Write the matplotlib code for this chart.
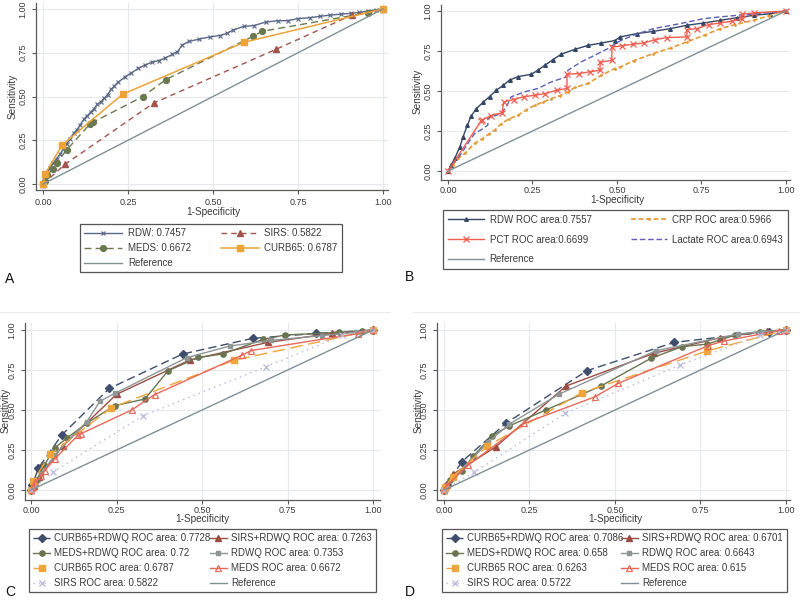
import matplotlib
matplotlib.use('Agg')
import matplotlib.pyplot as plt
from matplotlib import transforms
from matplotlib.lines import Line2D

plt.rcParams['font.family'] = ['Liberation Sans', 'DejaVu Sans']

# ---------------- Panel A data ----------------
a_rdw_x = [0, 0.004, 0.01, 0.02, 0.03, 0.04, 0.05, 0.06, 0.07, 0.08, 0.09, 0.1, 0.11, 0.12, 0.13, 0.14,
           0.15, 0.16, 0.17, 0.18, 0.19, 0.2, 0.21, 0.22, 0.24, 0.26, 0.28, 0.3, 0.32, 0.34, 0.36, 0.38,
           0.395, 0.41, 0.43, 0.46, 0.49, 0.52, 0.54, 0.56, 0.59, 0.62, 0.655, 0.69, 0.72, 0.75, 0.785,
           0.815, 0.845, 0.875, 0.905, 0.93, 0.955, 0.98, 1]
a_rdw_y = [0, 0.03, 0.06, 0.09, 0.12, 0.145, 0.17, 0.2, 0.23, 0.26, 0.29, 0.31, 0.34, 0.37, 0.39, 0.41,
           0.43, 0.455, 0.47, 0.49, 0.51, 0.54, 0.56, 0.58, 0.61, 0.635, 0.66, 0.68, 0.695, 0.705, 0.72, 0.74,
           0.755, 0.795, 0.815, 0.828, 0.84, 0.848, 0.86, 0.88, 0.9, 0.905, 0.925, 0.933, 0.933, 0.945, 0.95,
           0.958, 0.965, 0.97, 0.975, 0.98, 0.988, 0.995, 1]
sirs_x = [0, 0.065, 0.326, 0.686, 0.91, 1]
sirs_y = [0, 0.113, 0.463, 0.77, 0.966, 1]
meds_x = [0, 0.005, 0.012, 0.028, 0.04, 0.07, 0.138, 0.146, 0.294, 0.361, 0.617, 0.644, 0.955, 1]
meds_y = [0, 0.02, 0.05, 0.085, 0.12, 0.196, 0.343, 0.352, 0.5, 0.596, 0.843, 0.872, 0.978, 1]
curb_x = [0, 0.006, 0.056, 0.234, 0.592, 1]
curb_y = [0, 0.057, 0.222, 0.513, 0.81, 1]
a_labels = ['RDW: 0.7457', 'SIRS: 0.5822', 'MEDS: 0.6672', 'CURB65: 0.6787', 'Reference']

# ---------------- Panel B data ----------------
b_rdw_x = [0, 0.01, 0.02, 0.035, 0.044, 0.057, 0.069, 0.084, 0.104, 0.123, 0.143, 0.163, 0.182, 0.207,
           0.247, 0.266, 0.286, 0.31, 0.335, 0.375, 0.414, 0.454, 0.493, 0.51, 0.559, 0.608, 0.658, 0.707,
           0.756, 0.806, 0.855, 0.904, 0.954, 1]
b_rdw_y = [0, 0.04, 0.08, 0.15, 0.21, 0.285, 0.345, 0.39, 0.43, 0.465, 0.505, 0.535, 0.568, 0.59,
           0.605, 0.63, 0.66, 0.695, 0.73, 0.76, 0.785, 0.8, 0.815, 0.838, 0.859, 0.873, 0.89, 0.911,
           0.925, 0.942, 0.958, 0.973, 0.983, 1]
pct_x = [0, 0.097, 0.1, 0.128, 0.16, 0.165, 0.194, 0.224, 0.258, 0.288, 0.322, 0.352, 0.352, 0.387, 0.419,
         0.45, 0.45, 0.485, 0.485, 0.515, 0.546, 0.579, 0.613, 0.648, 0.707, 0.707, 0.738, 0.771, 0.806,
         0.84, 0.87, 0.87, 0.904, 1]
pct_y = [0, 0.31, 0.318, 0.347, 0.364, 0.432, 0.447, 0.464, 0.474, 0.484, 0.505, 0.516, 0.605, 0.609, 0.62,
         0.63, 0.68, 0.692, 0.775, 0.782, 0.792, 0.8, 0.821, 0.834, 0.838, 0.884, 0.89, 0.915, 0.925,
         0.936, 0.952, 0.979, 0.988, 1]
crp_x = [0, 0.015, 0.03, 0.05, 0.079, 0.1, 0.12, 0.138, 0.158, 0.18, 0.207, 0.23, 0.256, 0.28, 0.306, 0.33,
         0.355, 0.375, 0.414, 0.454, 0.493, 0.51, 0.55, 0.608, 0.66, 0.707, 0.76, 0.806, 0.85, 0.904, 0.95,
         0.983, 1]
crp_y = [0, 0.04, 0.079, 0.11, 0.173, 0.2, 0.23, 0.256, 0.297, 0.325, 0.349, 0.38, 0.41, 0.43, 0.453, 0.47,
         0.495, 0.522, 0.547, 0.599, 0.64, 0.65, 0.69, 0.734, 0.77, 0.807, 0.85, 0.89, 0.915, 0.942, 0.97,
         0.994, 1]
lac_x = [0, 0.02, 0.04, 0.059, 0.079, 0.1, 0.118, 0.118, 0.158, 0.175, 0.187, 0.227, 0.266, 0.306, 0.35,
         0.355, 0.394, 0.434, 0.473, 0.503, 0.55, 0.608, 0.66, 0.707, 0.756, 0.8, 0.855, 0.92, 0.983, 1]
lac_y = [0, 0.06, 0.11, 0.173, 0.235, 0.26, 0.287, 0.33, 0.36, 0.41, 0.464, 0.495, 0.516, 0.557, 0.588,
         0.63, 0.682, 0.723, 0.765, 0.807, 0.85, 0.89, 0.91, 0.93, 0.952, 0.962, 0.973, 0.985, 0.994, 1]
b_labels = ['RDW ROC area:0.7557', 'CRP ROC area:0.5966', 'PCT ROC area:0.6699',
            'Lactate ROC area:0.6943', 'Reference']

# ---------------- Panel C data ----------------
c_curbq_x = [0, 0.004, 0.021, 0.09, 0.229, 0.443, 0.648, 0.834, 1]
c_curbq_y = [0, 0.03, 0.135, 0.344, 0.635, 0.85, 0.948, 0.979, 1]
c_sirsq_x = [0, 0.009, 0.024, 0.093, 0.25, 0.464, 0.693, 0.88, 1]
c_sirsq_y = [0, 0.025, 0.083, 0.277, 0.598, 0.813, 0.923, 0.979, 1]
c_medsq_x = [0, 0.017, 0.039, 0.07, 0.104, 0.165, 0.245, 0.333, 0.401, 0.489, 0.56, 0.679, 0.742, 0.9, 0.966, 1]
c_medsq_y = [0, 0.062, 0.156, 0.265, 0.323, 0.421, 0.527, 0.569, 0.746, 0.829, 0.85, 0.942, 0.969, 0.985, 0.996, 1]
c_rdwq_x = [0, 0.01, 0.03, 0.07, 0.163, 0.202, 0.245, 0.455, 0.581, 0.7, 0.85, 0.95, 1]
c_rdwq_y = [0, 0.03, 0.1, 0.22, 0.427, 0.556, 0.604, 0.827, 0.9, 0.935, 0.965, 0.985, 1]
c_labels = ['CURB65+RDWQ ROC area: 0.7728', 'SIRS+RDWQ ROC area: 0.7263', 'MEDS+RDWQ ROC area: 0.72',
            'RDWQ ROC area: 0.7353', 'CURB65 ROC area: 0.6787', 'MEDS ROC area: 0.6672',
            'SIRS ROC area: 0.5822', 'Reference']

# ---------------- Panel D data ----------------
d_curbq_x = [0, 0.005, 0.008, 0.052, 0.181, 0.418, 0.674, 0.952, 1]
d_curbq_y = [0, 0.02, 0.031, 0.177, 0.417, 0.746, 0.923, 0.99, 1]
d_sirsq_x = [0, 0.008, 0.027, 0.152, 0.357, 0.613, 0.808, 0.944, 1]
d_sirsq_y = [0, 0.035, 0.1, 0.271, 0.65, 0.854, 0.952, 0.994, 1]
d_medsq_x = [0, 0.018, 0.052, 0.086, 0.14, 0.19, 0.298, 0.459, 0.605, 0.696, 0.77, 0.852, 0.923, 1]
d_medsq_y = [0, 0.062, 0.119, 0.212, 0.338, 0.4, 0.5, 0.65, 0.823, 0.896, 0.912, 0.969, 0.99, 1]
d_rdwq_x = [0, 0.03, 0.13, 0.19, 0.335, 0.62, 0.86, 0.93, 1]
d_rdwq_y = [0, 0.08, 0.3, 0.41, 0.598, 0.871, 0.975, 0.99, 1]
d_curb_x = [0, 0.003, 0.025, 0.127, 0.403, 0.769, 1]
d_curb_y = [0, 0.02, 0.083, 0.275, 0.608, 0.869, 1]
d_meds_x = [0, 0.01, 0.071, 0.235, 0.442, 0.51, 0.772, 0.818, 0.979, 1]
d_meds_y = [0, 0.03, 0.156, 0.417, 0.583, 0.667, 0.902, 0.931, 0.996, 1]
d_sirs_x = [0, 0.088, 0.354, 0.691, 0.925, 1]
d_sirs_y = [0, 0.11, 0.479, 0.781, 0.969, 1]
d_labels = ['CURB65+RDWQ ROC area: 0.7086', 'SIRS+RDWQ ROC area: 0.6701', 'MEDS+RDWQ ROC area: 0.658',
            'RDWQ ROC area: 0.6643', 'CURB65 ROC area: 0.6263', 'MEDS ROC area: 0.615',
            'SIRS ROC area: 0.5722', 'Reference']

ref_x = [0, 1]
ref_y = [0, 1]
ticks = [0, 0.25, 0.5, 0.75, 1.0]
tick_labels = ['0.00', '0.25', '0.50', '0.75', '1.00']

REF_C = '#7f9196'
SPINE_C = '#5a5a5a'
TXT_C = '#3a3a3a'
GRID_C = '#e6eaee'

fig = plt.figure(figsize=(8.0, 6.01), dpi=100)
W, H = 800.0, 601.0


def make_ax(l, r, t, b, xlim, ylim, vgrid=True, xpad=3):
    ax = fig.add_axes([l / W, 1 - b / H, (r - l) / W, (b - t) / H])
    ax.set_xlim(*xlim)
    ax.set_ylim(*ylim)
    ax.set_xticks(ticks)
    ax.set_xticklabels(tick_labels)
    ax.set_yticks(ticks)
    ax.set_yticklabels(tick_labels, rotation=90, va='center')
    for s in ['top', 'right']:
        ax.spines[s].set_visible(False)
    for s in ['left', 'bottom']:
        ax.spines[s].set_color(SPINE_C)
        ax.spines[s].set_linewidth(0.9)
    ax.tick_params(direction='out', length=3, width=0.8, color=SPINE_C, labelsize=6.5,
                   labelcolor=TXT_C)
    ax.tick_params(axis='y', pad=3)
    ax.tick_params(axis='x', pad=xpad)
    ax.yaxis.grid(True, color=GRID_C, lw=0.8)
    if vgrid:
        ax.xaxis.grid(True, color=GRID_C, lw=0.8)
    ax.set_axisbelow(True)
    return ax


def labels(ax, xlab_px_below, ylab_px_left, ax_h, ax_w):
    tr = transforms.blended_transform_factory(ax.transData, ax.transAxes)
    ax.text(0.5, -xlab_px_below / ax_h, '1-Specificity', transform=tr, ha='center', va='center',
            fontsize=7.2, color=TXT_C)
    tr2 = transforms.blended_transform_factory(ax.transAxes, ax.transData)
    ax.text(-ylab_px_left / ax_w, 0.5, 'Sensitivity', transform=tr2, ha='center', va='center',
            rotation=90, fontsize=7.2, color=TXT_C)


def legend(handles, labs, box, ncol=2, **kw):
    x0, y0, x1, y1 = box
    leg = fig.legend(handles, labs, loc='upper left',
                     bbox_to_anchor=(x0 / W, 1 - y1 / H, (x1 - x0) / W, (y1 - y0) / H),
                     mode='expand', ncol=ncol, fontsize=7, frameon=True, fancybox=False,
                     framealpha=1, edgecolor='#555555', numpoints=1, borderaxespad=0, **kw)
    leg.get_frame().set_linewidth(0.9)
    for t in leg.get_texts():
        t.set_color(TXT_C)
    return leg


# ================= Panel A =================
axA = make_ax(36, 388, 3, 190, (-0.0206, 1.0147), (-0.034, 1.034), xpad=3)
hA1, = axA.plot(a_rdw_x, a_rdw_y, color='#5a6786', lw=1.0, marker='x', ms=3.2, mew=0.8)
hA2, = axA.plot(sirs_x, sirs_y, color='#a3544c', lw=1.0, ls=(0, (4, 3)), marker='^', ms=4.5)
hA3, = axA.plot(meds_x, meds_y, color='#6b7a4e', lw=1.0, ls=(0, (5, 3)), marker='o', ms=4.2)
hA4, = axA.plot(curb_x, curb_y, color='#eda338', lw=1.1, marker='s', ms=4.5)
hA5, = axA.plot(ref_x, ref_y, color=REF_C, lw=1.0)
labels(axA, 22, 23, 187, 352)
legend([hA1, hA3, hA5, hA2, hA4], [a_labels[0], a_labels[2], a_labels[4], a_labels[1], a_labels[3]],
       (80, 224, 342, 271), handlelength=3.9, handletextpad=0.6, labelspacing=0.5, borderpad=0.45,
       columnspacing=1.5)
fig.text(5 / W, 1 - 279 / H, 'A', fontsize=10, ha='left', va='center', color='#111111')

# ================= Panel B =================
axB = make_ax(441, 790, 5, 180, (-0.0207, 1.012), (-0.056, 1.0375), vgrid=False, xpad=1.5)
hB1, = axB.plot(b_rdw_x, b_rdw_y, color='#354766', lw=1.0, marker='^', ms=2.6)
hB3, = axB.plot(crp_x, crp_y, color='#e59a35', lw=1.2, ls=(0, (3, 1.5)), marker='.', ms=2)
hB4, = axB.plot(lac_x, lac_y, color='#5d5fb5', lw=1.0, ls=(0, (4, 2)))
hB2, = axB.plot(pct_x, pct_y, color='#ee5e4f', lw=1.0, marker='x', ms=4.5, mew=0.9)
hB5, = axB.plot(ref_x, ref_y, color=REF_C, lw=1.0)
labels(axB, 20, 23, 175, 349)
legend([hB1, hB2, hB5, hB3, hB4], [b_labels[0], b_labels[2], b_labels[4], b_labels[1], b_labels[3]],
       (443, 210, 788, 267), handlelength=3.7, handletextpad=0.6, labelspacing=1.0, borderpad=0.5,
       columnspacing=1.5)
fig.text(405 / W, 1 - 277 / H, 'B', fontsize=10, ha='left', va='center', color='#111111')


# ================= Panels C and D =================
def panel_cd(letter, l, r, xlim, curbq, sirsq, medsq, rdwq, curb, meds, sirs, labs, box, letter_x, ylab_off):
    ax = make_ax(l, r, 323, 500, xlim, (-0.0625, 1.044), xpad=1.5)
    h1, = ax.plot(*curbq, color='#3e4e6c', lw=1.0, ls=(0, (6, 3)), marker='D', ms=4.2)
    h2, = ax.plot(*sirsq, color='#9c4c42', lw=1.0, marker='^', ms=4.5)
    h3, = ax.plot(*medsq, color='#6a7450', lw=1.0, marker='o', ms=3.8)
    h4, = ax.plot(*rdwq, color='#8e9696', lw=1.0, marker='s', ms=2.6)
    h5, = ax.plot(*curb, color='#f0a53a', lw=1.0, ls=(0, (9, 4)), marker='s', ms=4.5)
    h6, = ax.plot(*meds, color='#e8685a', lw=1.0, marker='^', ms=5, mfc='none', mew=0.9)
    h7, = ax.plot(*sirs, color='#b9b8dc', lw=1.0, ls=(0, (1, 3)), marker='x', ms=4.5, mew=0.9)
    h8, = ax.plot(ref_x, ref_y, color=REF_C, lw=1.0)
    labels(ax, 19, ylab_off, 177, r - l)
    hs = [h1, h3, h5, h7, h2, h4, h6, h8]
    ls = [labs[0], labs[2], labs[4], labs[6], labs[1], labs[3], labs[5], labs[7]]
    legend(hs, ls, box, handlelength=1.7, handletextpad=0.45, labelspacing=0.5, borderpad=0.45,
           columnspacing=0.8)
    fig.text(letter_x / W, 1 - 592 / H, letter, fontsize=10, ha='left', va='center', color='#111111')
    fig.add_artist(Line2D([(l - 25) / W, (l + 365) / W], [1 - 312 / H, 1 - 312 / H],
                          color='#ececec', lw=0.8))
    return ax


panel_cd('C', 25, 380, (-0.0175, 1.02), (c_curbq_x, c_curbq_y), (c_sirsq_x, c_sirsq_y),
         (c_medsq_x, c_medsq_y), (c_rdwq_x, c_rdwq_y), (curb_x, curb_y), (meds_x, meds_y),
         (sirs_x, sirs_y), c_labels, (29, 529, 376, 591), 5, 19)
panel_cd('D', 437, 790, (-0.0205, 1.012), (d_curbq_x, d_curbq_y), (d_sirsq_x, d_sirsq_y),
         (d_medsq_x, d_medsq_y), (d_rdwq_x, d_rdwq_y), (d_curb_x, d_curb_y), (d_meds_x, d_meds_y),
         (d_sirs_x, d_sirs_y), d_labels, (442, 529, 787, 591), 405, 18)

fig.savefig('out.png', dpi=100, facecolor='white')
